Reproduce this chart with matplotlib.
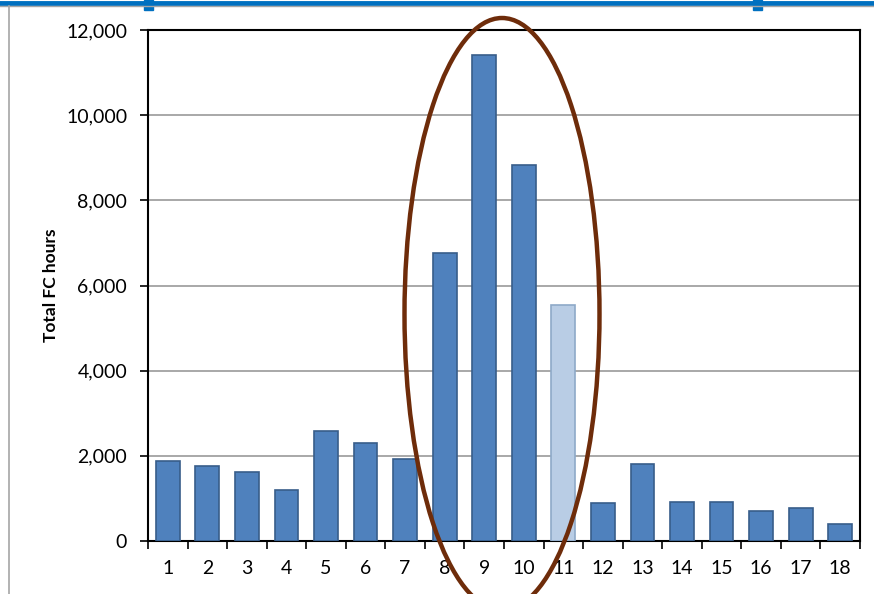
import numpy as np
import matplotlib
matplotlib.use('Agg')
import matplotlib.pyplot as plt
from matplotlib.patches import Ellipse, Rectangle
from matplotlib.lines import Line2D
from matplotlib.ticker import FuncFormatter

# values
categories = list(range(1, 19))
fc_hours = [1880, 1765, 1620, 1195, 2585, 2305, 1930, 6765, 11410,
            8830, 5545, 890, 1810, 920, 920, 705, 775, 395]
highlight = [11]

plt.rcParams['font.family'] = ['Lato', 'DejaVu Sans']

fig = plt.figure(figsize=(8.74, 5.94), dpi=100)
ax = fig.add_axes([148/874, 1 - 541/594, 712/874, 511/594])

colors = ['#B9CDE5' if c in highlight else '#4F81BD' for c in categories]
edges = ['#8EA9C8' if c in highlight else '#385D8A' for c in categories]
ax.bar(categories, fc_hours, width=0.6, color=colors, edgecolor=edges,
       linewidth=1.2, zorder=3)

ax.set_xlim(0.5, 18.5)
ax.set_ylim(0, 12000)
ax.set_yticks(np.arange(0, 12001, 2000))
ax.yaxis.set_major_formatter(FuncFormatter(lambda v, p: f'{int(v):,}'))
ax.set_xticks(categories)
ax.set_xticks(np.arange(0.5, 19, 1), minor=True)
ax.tick_params(axis='x', which='major', length=0, pad=14, labelsize=14)
ax.tick_params(axis='x', which='minor', length=6, width=1.2, direction='out')
ax.tick_params(axis='y', length=6, width=1.2, direction='out', pad=9, labelsize=14)
ax.grid(axis='y', color='#999999', linewidth=1.2, zorder=0)
for s in ax.spines.values():
    s.set_linewidth(1.5)
    s.set_color('black')

ax.set_ylabel('Total FC hours', fontsize=12.5, fontweight='bold', labelpad=5)

# ellipse around bars 8-11
ell = Ellipse((502/874, 1 - 314/594), 195/874, 592/594, transform=fig.transFigure,
              fill=False, edgecolor='#6E2C0A', linewidth=3.2, zorder=10, clip_on=False)
fig.add_artist(ell)

# frame decorations from the original screenshot
fig.add_artist(Line2D([0, 1], [1 - 2.5/594, 1 - 2.5/594], transform=fig.transFigure,
                      color='#0070C0', linewidth=3.5))
fig.add_artist(Line2D([0, 1], [1 - 6/594, 1 - 6/594], transform=fig.transFigure,
                      color='#A6A6A6', linewidth=1))
fig.add_artist(Line2D([8.5/874, 8.5/874], [0, 1 - 6/594], transform=fig.transFigure,
                      color='#A6A6A6', linewidth=1.2))
for hx in [148, 757]:
    fig.add_artist(Rectangle(((hx - 4.5)/874, 1 - 10/594), 9/874, 10/594,
                             transform=fig.transFigure, color='#0070C0'))

fig.savefig('out.png', dpi=100)
